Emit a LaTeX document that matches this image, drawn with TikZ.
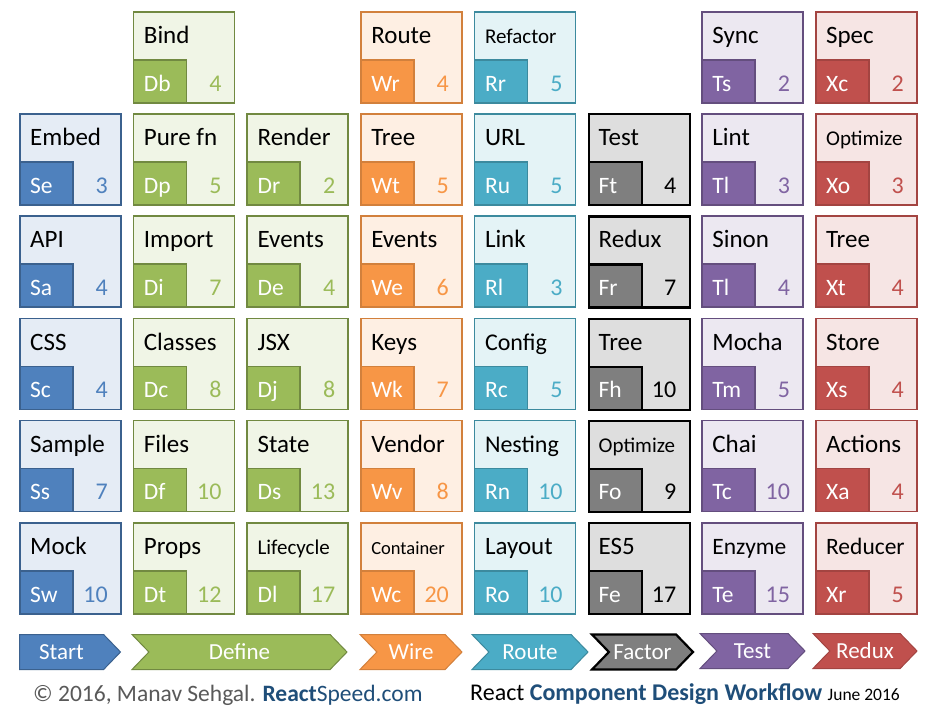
\documentclass[tikz,border=0pt]{standalone}
\usepackage{fontspec}
\setmainfont{Carlito}
\usetikzlibrary{shapes.symbols}
\newcommand{\sz}[1]{\fontsize{#1}{#1}\selectfont}
% family colours
\definecolor{start}{HTML}{4F81BD}
\definecolor{define}{HTML}{9BBB59}
\definecolor{wire}{HTML}{F79646}
\definecolor{route}{HTML}{4BACC6}
\definecolor{factor}{HTML}{7F7F7F}
\definecolor{test}{HTML}{8064A2}
\definecolor{redux}{HTML}{C0504D}
\definecolor{footblue}{HTML}{1F4E79}
\definecolor{footgray}{HTML}{595959}
\colorlet{startdark}{start!75!black}   \colorlet{startlight}{start!15}   \colorlet{startnum}{start}
\colorlet{definedark}{define!73!black} \colorlet{definelight}{define!15} \colorlet{definenum}{define}
\colorlet{wiredark}{wire!85!black}     \colorlet{wirelight}{wire!15}     \colorlet{wirenum}{wire}
\colorlet{routedark}{route!80!black}   \colorlet{routelight}{route!15}   \colorlet{routenum}{route}
\colorlet{factordark}{black}           \colorlet{factorlight}{black!13}  \colorlet{factornum}{black}
\colorlet{testdark}{test!78!black}     \colorlet{testlight}{test!15}     \colorlet{testnum}{test}
\colorlet{reduxdark}{redux!85!black}   \colorlet{reduxlight}{redux!15}   \colorlet{reduxnum}{redux}
\tikzset{
  tile/.style={draw=#1dark,fill=#1light,line width=1.6pt,minimum width=101pt,minimum height=91pt,
    anchor=north west,inner sep=0pt,#1edge/.try},
  sym/.style={draw=#1dark,fill=#1,line width=1.6pt,minimum width=53pt,minimum height=43pt,
    anchor=south west,inner sep=0pt,#1edge/.try},
  factoredge/.style={line width=2.2pt},
  ttl/.style={anchor=base west,inner sep=0pt,font=\sz{25}},
  cod/.style={anchor=base west,inner sep=0pt,font=\sz{23.5},text=white},
  num/.style={anchor=base east,inner sep=0pt,font=\sz{24},text=#1num},
  band/.style={signal,draw=#1dark,fill=#1,text=white,line width=1pt,minimum height=35pt,
    inner sep=0pt,signal pointer angle=92,signal from=west,signal to=east,font=\sz{23},#1edge/.try},
}
% one element: [title font] col, row, family, title, code, number
\newcommand{\elem}[7][\sz{25}]{%
  \pgfmathsetmacro{\ex}{19+#2*113.7}%
  \pgfmathsetmacro{\ey}{11+#3*102.2}%
  \node[tile=#4] (c#2r#3) at (\ex,\ey) {};
  \node[sym=#4] (c#2r#3s) at (c#2r#3.south west) {};
  \node[ttl,font=#1] (c#2r#3t) at (\ex+11,\ey+32.5) {#5};
  \node[cod] (c#2r#3c) at (\ex+11,\ey+80) {#6};
  \node[num=#4] (c#2r#3n) at (\ex+89,\ey+80) {#7};
}

\begin{document}
\begin{tikzpicture}[x=1pt,y=-1pt]
\useasboundingbox[fill=white] (0,0) rectangle (936,710);
% start
\elem{0}{1}{start}{Embed}{Se}{3}
\elem{0}{2}{start}{API}{Sa}{4}
\elem{0}{3}{start}{CSS}{Sc}{4}
\elem{0}{4}{start}{Sample}{Ss}{7}
\elem{0}{5}{start}{Mock}{Sw}{10}
% define
\elem{1}{0}{define}{Bind}{Db}{4}
\elem{1}{1}{define}{Pure fn}{Dp}{5}
\elem{1}{2}{define}{Import}{Di}{7}
\elem{1}{3}{define}{Classes}{Dc}{8}
\elem{1}{4}{define}{Files}{Df}{10}
\elem{1}{5}{define}{Props}{Dt}{12}
\elem{2}{1}{define}{Render}{Dr}{2}
\elem{2}{2}{define}{Events}{De}{4}
\elem{2}{3}{define}{JSX}{Dj}{8}
\elem{2}{4}{define}{State}{Ds}{13}
\elem[\sz{21}]{2}{5}{define}{Lifecycle}{Dl}{17}
% wire
\elem{3}{0}{wire}{Route}{Wr}{4}
\elem{3}{1}{wire}{Tree}{Wt}{5}
\elem{3}{2}{wire}{Events}{We}{6}
\elem{3}{3}{wire}{Keys}{Wk}{7}
\elem{3}{4}{wire}{Vendor}{Wv}{8}
\elem[\sz{18.5}]{3}{5}{wire}{Container}{Wc}{20}
% route
\elem[\sz{21}]{4}{0}{route}{Refactor}{Rr}{5}
\elem{4}{1}{route}{URL}{Ru}{5}
\elem{4}{2}{route}{Link}{Rl}{3}
\elem[\sz{24}]{4}{3}{route}{Config}{Rc}{5}
\elem[\sz{24}]{4}{4}{route}{Nesting}{Rn}{10}
\elem{4}{5}{route}{Layout}{Ro}{10}
% factor
\elem{5}{1}{factor}{Test}{Ft}{4}
\elem{5}{2}{factor}{Redux}{Fr}{7}
\elem{5}{3}{factor}{Tree}{Fh}{10}
\elem[\sz{21}]{5}{4}{factor}{Optimize}{Fo}{9}
\elem{5}{5}{factor}{ES5}{Fe}{17}
% test
\elem{6}{0}{test}{Sync}{Ts}{2}
\elem{6}{1}{test}{Lint}{Tl}{3}
\elem{6}{2}{test}{Sinon}{Tl}{4}
\elem{6}{3}{test}{Mocha}{Tm}{5}
\elem{6}{4}{test}{Chai}{Tc}{10}
\elem[\sz{23.5}]{6}{5}{test}{Enzyme}{Te}{15}
% redux
\elem{7}{0}{redux}{Spec}{Xc}{2}
\elem[\sz{21}]{7}{1}{redux}{Optimize}{Xo}{3}
\elem{7}{2}{redux}{Tree}{Xt}{4}
\elem{7}{3}{redux}{Store}{Xs}{4}
\elem{7}{4}{redux}{Actions}{Xa}{4}
\elem[\sz{23.5}]{7}{5}{redux}{Reducer}{Xr}{5}
% stage arrows
\node[band=start,signal from=nowhere,minimum width=101pt,anchor=west] (bstart) at (19,652) {Start};
\node[band=define,minimum width=215pt] (bdefine) at (239.5,652) {Define};
\node[band=wire,minimum width=102pt] (bwire) at (411,652) {Wire};
\node[band=route,minimum width=116pt] (broute) at (530,652) {Route};
\node[band=factor,minimum width=101pt] (bfactor) at (642.5,652) {Factor};
\node[band=test,minimum width=105pt] (btest) at (752.5,651) {Test};
\node[band=redux,minimum width=104pt] (bredux) at (865,651) {Redux};
% footer
\node[anchor=base west,inner sep=0pt,font=\sz{23.5},text=footgray] (credit) at (33,701)
  {© 2016, Manav Sehgal. \textcolor{footblue}{\textbf{React}Speed.com}};
\node[anchor=base west,inner sep=0pt,font=\sz{24}] (caption) at (470,700)
  {React \textcolor{footblue}{\textbf{Component Design Workflow}} {\sz{17.5}June 2016}};
\end{tikzpicture}
\end{document}
